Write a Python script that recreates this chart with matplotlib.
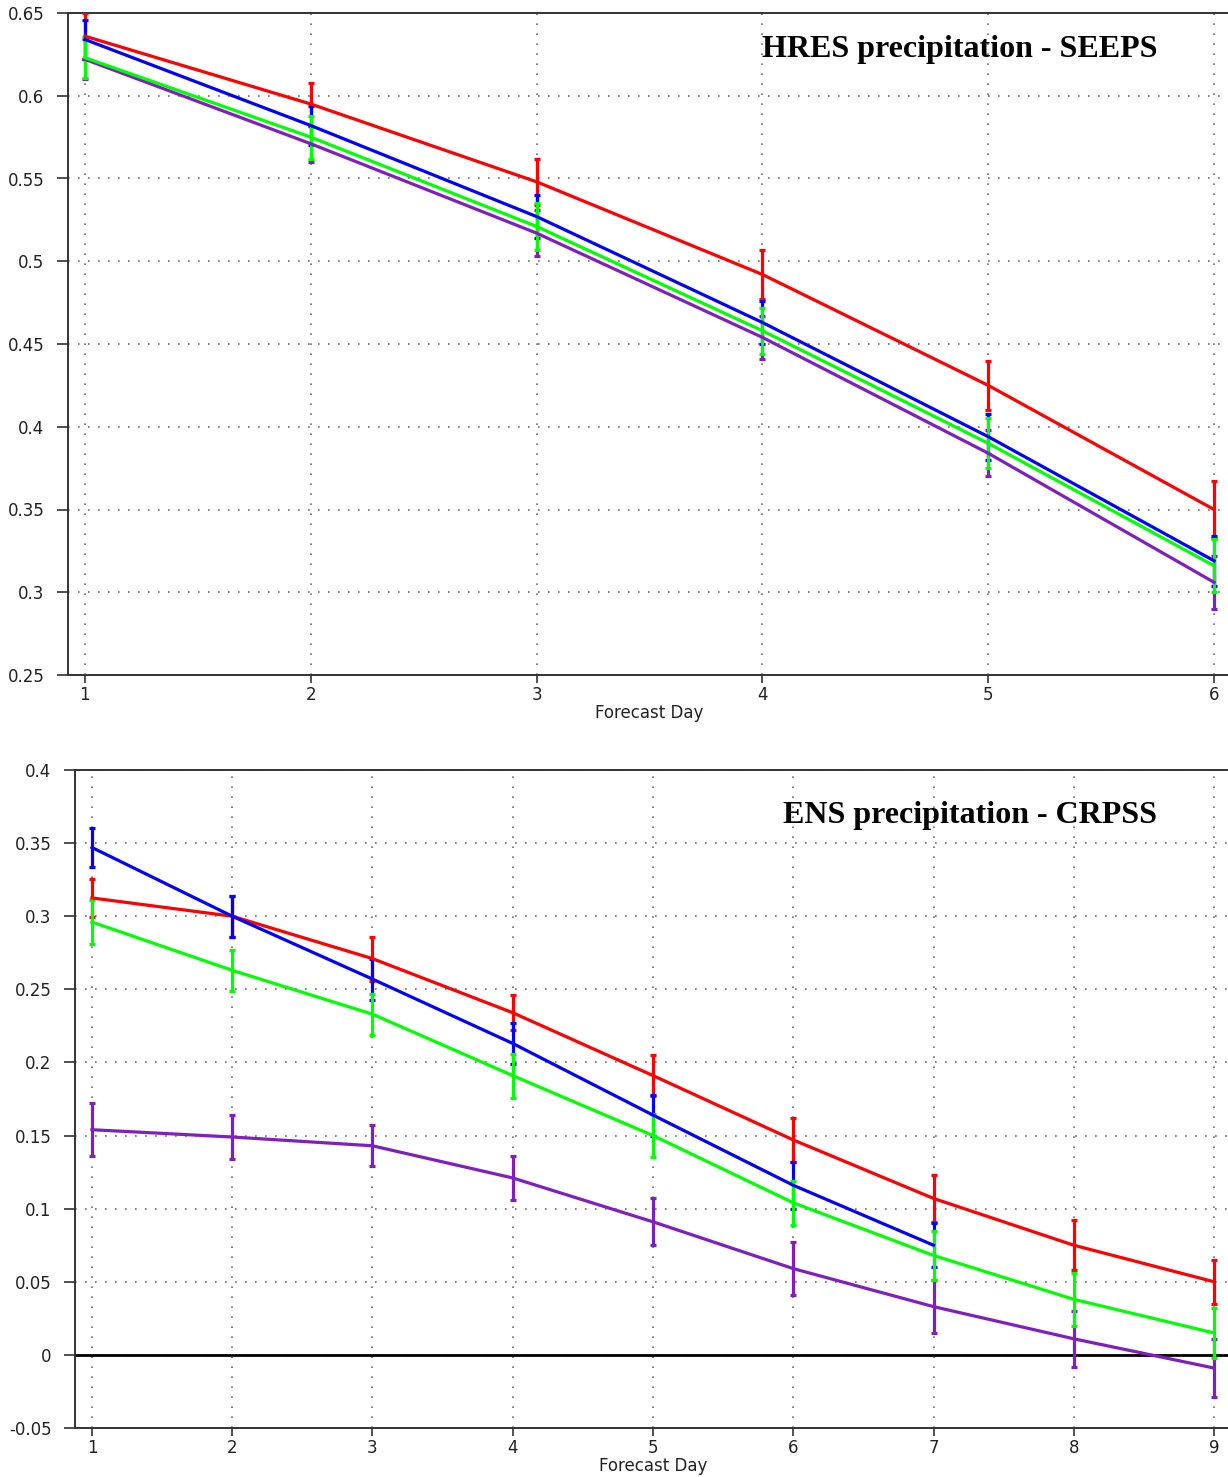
import matplotlib
matplotlib.use("Agg")
import matplotlib.pyplot as plt

plt.rcParams["font.family"] = ["DejaVu Sans"]
plt.rcParams["axes.unicode_minus"] = False

# ---------------- data ----------------
days_hres = [1, 2, 3, 4, 5, 6]
seeps_red = [0.636, 0.595, 0.548, 0.492, 0.425, 0.350]
seeps_red_err = [0.014, 0.013, 0.014, 0.015, 0.015, 0.017]
seeps_blue = [0.634, 0.582, 0.527, 0.463, 0.394, 0.319]
seeps_blue_err = [0.012, 0.012, 0.013, 0.013, 0.014, 0.015]
seeps_green = [0.623, 0.575, 0.521, 0.458, 0.390, 0.316]
seeps_green_err = [0.0125, 0.013, 0.014, 0.014, 0.015, 0.016]
seeps_purple = [0.622, 0.571, 0.517, 0.454, 0.384, 0.306]
seeps_purple_err = [0.012, 0.011, 0.014, 0.013, 0.014, 0.016]

days_ens = [1, 2, 3, 4, 5, 6, 7, 8, 9]
days_ens_blue = [1, 2, 3, 4, 5, 6, 7]
crpss_red = [0.3125, 0.300, 0.271, 0.234, 0.191, 0.147, 0.107, 0.075, 0.050]
crpss_red_err = [0.013, 0.014, 0.015, 0.012, 0.014, 0.015, 0.016, 0.017, 0.015]
crpss_blue = [0.347, 0.300, 0.257, 0.213, 0.164, 0.116, 0.075]
crpss_blue_err = [0.013, 0.014, 0.014, 0.014, 0.014, 0.016, 0.015]
crpss_green = [0.296, 0.263, 0.233, 0.191, 0.150, 0.104, 0.068, 0.038, 0.015]
crpss_green_err = [0.015, 0.014, 0.014, 0.015, 0.015, 0.015, 0.017, 0.018, 0.017]
crpss_purple = [0.154, 0.149, 0.143, 0.121, 0.091, 0.059, 0.033, 0.011, -0.009]
crpss_purple_err = [0.018, 0.015, 0.014, 0.015, 0.016, 0.018, 0.018, 0.019, 0.020]

hres_yticks = [0.25, 0.3, 0.35, 0.4, 0.45, 0.5, 0.55, 0.6, 0.65]
hres_yticklabels = ["0.25", "0.3", "0.35", "0.4", "0.45", "0.5", "0.55", "0.6", "0.65"]
ens_yticks = [-0.05, 0, 0.05, 0.1, 0.15, 0.2, 0.25, 0.3, 0.35, 0.4]
ens_yticklabels = ["-0.05", "0", "0.05", "0.1", "0.15", "0.2", "0.25", "0.3", "0.35", "0.4"]

title_top = "HRES precipitation - SEEPS"
title_bottom = "ENS precipitation - CRPSS"
xlabel = "Forecast Day"

RED = "#ff0000"
BLUE = "#0000ff"
GREEN = "#00ff00"
PURPLE = "#7f1fbf"

# ---------------- figure ----------------
fig = plt.figure(figsize=(12.28, 14.77), dpi=100)
ax1 = fig.add_axes([68 / 1228, 1 - 675 / 1477, (1231 - 68) / 1228, 662 / 1477])
ax2 = fig.add_axes([75 / 1228, 1 - 1428 / 1477, (1231 - 75) / 1228, 658 / 1477])


def style(ax, xticks, yticks, yticklabels, xlim, ylim):
    ax.set_xlim(*xlim)
    ax.set_ylim(*ylim)
    ax.set_xticks(xticks)
    ax.set_xticklabels([str(x) for x in xticks])
    ax.set_yticks(yticks)
    ax.set_yticklabels(yticklabels)
    ax.grid(True, linestyle=(0, (1, 5)), color="#707070", linewidth=1.2)
    ax.set_axisbelow(True)
    for s in ["left", "bottom", "top"]:
        ax.spines[s].set_color("#333333")
        ax.spines[s].set_linewidth(1.4)
    ax.spines["right"].set_visible(False)
    ax.tick_params(axis="both", direction="out", width=1.2,
                   color="#333333", labelsize=12, labelcolor="#222222")
    ax.tick_params(axis="y", length=8, pad=9)
    ax.tick_params(axis="x", length=6, pad=2)
    ax.set_xlabel(xlabel, fontsize=12, color="#222222", labelpad=0)


def series(ax, x, y, e, color):
    ax.errorbar(x, y, yerr=e, color=color, linewidth=2.3, elinewidth=2.3,
                capsize=2.5, capthick=2.3, zorder=3)


style(ax1, days_hres, hres_yticks, hres_yticklabels, (0.925, 6.075), (0.25, 0.65))
series(ax1, days_hres, seeps_red, seeps_red_err, RED)
series(ax1, days_hres, seeps_purple, seeps_purple_err, PURPLE)
series(ax1, days_hres, seeps_blue, seeps_blue_err, BLUE)
series(ax1, days_hres, seeps_green, seeps_green_err, GREEN)
ax1.text(1157 / 1228, 1 - 49 / 1477, title_top, transform=fig.transFigure,
         ha="right", va="center", fontsize=23, fontweight="bold",
         family="Liberation Serif")

style(ax2, days_ens, ens_yticks, ens_yticklabels, (0.879, 9.121), (-0.05, 0.4))
ax2.axhline(0, color="black", linewidth=2, zorder=2)
series(ax2, days_ens, crpss_red, crpss_red_err, RED)
series(ax2, days_ens, crpss_purple, crpss_purple_err, PURPLE)
series(ax2, days_ens_blue, crpss_blue, crpss_blue_err, BLUE)
series(ax2, days_ens, crpss_green, crpss_green_err, GREEN)
ax2.text(1157 / 1228, 1 - 816 / 1477, title_bottom, transform=fig.transFigure,
         ha="right", va="center", fontsize=23, fontweight="bold",
         family="Liberation Serif")

fig.savefig("out.png", dpi=100)
